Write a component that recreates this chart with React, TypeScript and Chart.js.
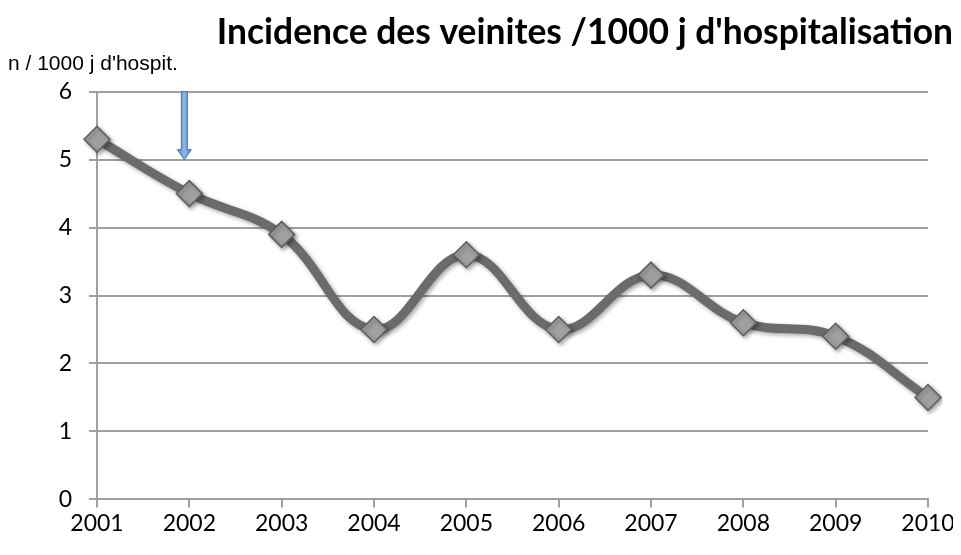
import React, { useEffect, useRef } from "react";
import { Chart, registerables } from "chart.js";

Chart.register(...registerables);

const years = ["2001", "2002", "2003", "2004", "2005", "2006", "2007", "2008", "2009", "2010"];
const incidence = [5.3, 4.5, 3.9, 2.5, 3.6, 2.5, 3.3, 2.6, 2.4, 1.5];
const yTicks = [0, 1, 2, 3, 4, 5, 6];
const arrowYear = "2002";
const arrowFrom = 6;
const arrowTo = 5;
const titleText = "Incidence des veinites /1000 j d'hospitalisation";
const subtitleText = "n / 1000 j d'hospit.";

const arrowPlugin = {
  id: "arrowPlugin",
  afterDatasetsDraw(chart: any) {
    const { ctx, scales } = chart;
    const x = scales.x.getPixelForValue(years.indexOf(arrowYear)) - 5;
    const y0 = scales.y.getPixelForValue(arrowFrom);
    const y1 = scales.y.getPixelForValue(arrowTo);
    const shaft = 3;
    const head = 7;
    const headLen = 10;
    ctx.save();
    ctx.beginPath();
    ctx.moveTo(x - shaft, y0);
    ctx.lineTo(x + shaft, y0);
    ctx.lineTo(x + shaft, y1 - headLen);
    ctx.lineTo(x + head, y1 - headLen);
    ctx.lineTo(x, y1);
    ctx.lineTo(x - head, y1 - headLen);
    ctx.lineTo(x - shaft, y1 - headLen);
    ctx.closePath();
    const g = ctx.createLinearGradient(x - head, 0, x + head, 0);
    g.addColorStop(0, "#4f86c6");
    g.addColorStop(0.5, "#8cb8e8");
    g.addColorStop(1, "#4f86c6");
    ctx.fillStyle = g;
    ctx.fill();
    ctx.strokeStyle = "#3f72b0";
    ctx.lineWidth = 1;
    ctx.stroke();
    ctx.restore();
  },
};

const shadowPlugin = {
  id: "shadowPlugin",
  beforeDatasetDraw(chart: any) {
    const ctx = chart.ctx;
    ctx.save();
    ctx.shadowColor = "rgba(0,0,0,0.35)";
    ctx.shadowBlur = 4;
    ctx.shadowOffsetX = 2;
    ctx.shadowOffsetY = 2;
  },
  afterDatasetDraw(chart: any) {
    chart.ctx.restore();
  },
};

export default function App() {
  const ref = useRef<HTMLCanvasElement>(null);
  useEffect(() => {
    if (!ref.current) return;
    const chart = new Chart(ref.current, {
      type: "line",
      data: {
        labels: years,
        datasets: [
          {
            data: incidence,
            borderColor: "#6b6b6b",
            borderWidth: 9,
            tension: 0.4,
            pointStyle: "rectRot",
            pointRadius: 13,
            pointHoverRadius: 13,
            pointBackgroundColor: "#a0a0a0",
            pointBorderColor: "#5e5e5e",
            pointBorderWidth: 1.5,
            fill: false,
          },
        ],
      },
      options: {
        animation: false,
        responsive: true,
        maintainAspectRatio: false,
        layout: { padding: { left: 0, right: 0, top: 0, bottom: 8 } },
        plugins: {
          legend: { display: false },
          tooltip: { enabled: false },
          title: {
            display: true,
            text: titleText,
            align: "end",
            color: "#000",
            font: { family: "Lato", size: 35.4, weight: "bold" },
            padding: { top: 3, bottom: 0 },
          },
          subtitle: {
            display: true,
            text: subtitleText,
            align: "start",
            color: "#000",
            font: { family: "Liberation Sans", size: 21 },
            padding: { top: -2, bottom: 15 },
          },
        },
        scales: {
          x: {
            type: "category",
            offset: false,
            afterFit: (scale: any) => {
              scale.paddingRight = 25;
            },
            grid: {
              display: true,
              drawOnChartArea: false,
              drawTicks: true,
              tickLength: 8,
              color: "#a0a0a0",
              lineWidth: 2,
            },
            border: { display: true, color: "#a0a0a0", width: 2 },
            ticks: {
              color: "#000",
              font: { family: "Lato", size: 23 },
              padding: 2,
              maxRotation: 0,
              autoSkip: false,
            },
          },
          y: {
            min: 0,
            max: 6,
            afterBuildTicks: (scale: any) => {
              scale.ticks = yTicks.map((v) => ({ value: v }));
            },
            afterFit: (scale: any) => {
              scale.width = 89;
            },
            grid: {
              color: "#a0a0a0",
              lineWidth: 2,
              tickLength: 8,
            },
            border: { display: true, color: "#a0a0a0", width: 2 },
            ticks: {
              color: "#000",
              font: { family: "Lato", size: 23 },
              padding: 17,
            },
          },
        },
      },
      plugins: [shadowPlugin, arrowPlugin],
    });
    return () => chart.destroy();
  }, []);
  return (
    <div style={{ width: 945, height: 539 }}>
      <canvas ref={ref} />
    </div>
  );
}
